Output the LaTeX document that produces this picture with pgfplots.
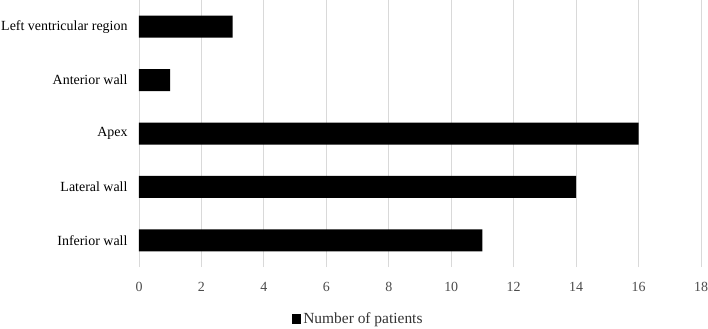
\documentclass[border=0pt]{standalone}
\usepackage{pgfplots}
\pgfplotsset{compat=1.18}
\usepackage{fontspec}
\setmainfont{Liberation Serif}
\begin{document}
\begin{tikzpicture}[x=1bp,y=1bp]
\path[use as bounding box] (-139,-61) rectangle (569,267);
\begin{axis}[
  at={(0,0)}, anchor=south west,
  scale only axis,
  width=562bp, height=267bp,
  xbar,
  bar width=22bp,
  xmin=0, xmax=18,
  ymin=-0.5, ymax=4.5,
  xtick={0,2,...,18},
  ytick={0,1,2,3,4},
  yticklabels={Inferior wall,Lateral wall,Apex,Anterior wall,Left ventricular region},
  axis line style={draw=none},
  major tick length=0pt,
  xmajorgrids,
  grid style={draw=black!15, line width=0.8bp},
  tick label style={font=\fontsize{14}{16}\selectfont},
  xticklabel style={text=black!70, yshift=-12bp},
  yticklabel style={text=black, xshift=-8bp},
  /pgf/number format/assume math mode=true,
  legend style={at={(0.39,-0.195)}, anchor=center, draw=none, font=\fontsize{15.5}{17}\selectfont, text=black!80,
    /tikz/every even column/.append style={column sep=0pt}},
  legend image code/.code={\fill[black, draw=none] (0bp,-4.5bp) rectangle (9.5bp,5bp);},
  clip=false,
]
\addplot[fill=black, draw=none] coordinates {(11,0) (14,1) (16,2) (1,3) (3,4)};
\addlegendentry{Number of patients}
\end{axis}
\end{tikzpicture}
\end{document}
